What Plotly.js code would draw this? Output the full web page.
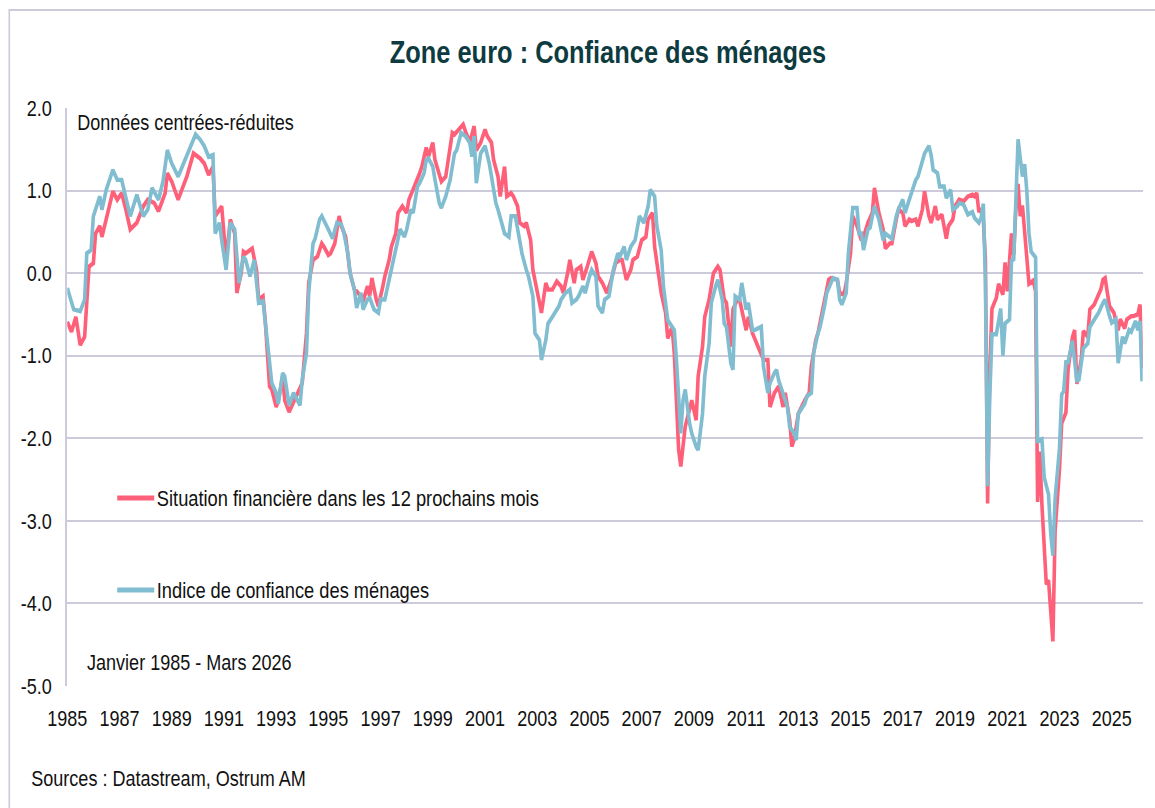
<!DOCTYPE html>
<html>
<head>
<meta charset="utf-8">
<script src="https://cdn.plot.ly/plotly-3.0.1.min.js"></script>
<style>
  html, body { margin: 0; padding: 0; background: #ffffff; overflow: hidden; }
  #cadre { width: 1155px; height: 808px; overflow: hidden; position: relative; }
  /* The source chart uses a narrow typeface: render wider, then compress horizontally */
  #chart { width: 1408px; height: 808px; transform: scaleX(0.8203); transform-origin: 0 0; }
</style>
</head>
<body>
<div id="cadre"><div id="chart"></div></div>
<script>
// ---- Série 1 : Situation financière dans les 12 prochains mois (centrée-réduite) ----
const moisSituation = [
'1985-01','1985-03','1985-05','1985-07','1985-09','1985-11','1986-01','1986-02','1986-04','1986-05','1986-08','1986-10','1986-12',
'1987-02','1987-04','1987-06','1987-09','1987-12','1988-02','1988-05','1988-07','1988-10','1988-11','1989-01','1989-04','1989-08','1989-11',
'1990-02','1990-04','1990-06','1990-08','1990-09','1990-12','1991-02','1991-04','1991-06','1991-07','1991-09','1991-10','1991-11',
'1992-01','1992-02','1992-04','1992-05','1992-07','1992-08','1992-10','1992-11','1993-01','1993-02','1993-04','1993-05','1993-07','1993-08','1993-11',
'1994-01','1994-03','1994-04','1994-06','1994-08','1994-10','1994-11','1995-01','1995-02','1995-04','1995-06','1995-07','1995-09','1995-11',
'1996-01','1996-02','1996-04','1996-05','1996-07','1996-08','1996-09','1996-11','1996-12','1997-02','1997-03','1997-05','1997-06','1997-08','1997-09','1997-11',
'1998-01','1998-02','1998-04','1998-05','1998-07','1998-08','1998-10','1998-11','1999-01','1999-02','1999-04','1999-05','1999-07','1999-08','1999-10','1999-11',
'2000-01','2000-03','2000-04','2000-06','2000-08','2000-09','2000-11','2001-01','2001-02','2001-04','2001-05','2001-07','2001-08','2001-09','2001-10','2001-11',
'2002-01','2002-02','2002-04','2002-05','2002-07','2002-08','2002-10','2002-11','2003-01','2003-02','2003-03','2003-05','2003-06','2003-08','2003-10','2003-12',
'2004-01','2004-03','2004-04','2004-06','2004-07','2004-09','2004-10','2004-12','2005-02','2005-04','2005-05','2005-07','2005-09','2005-11',
'2006-01','2006-03','2006-04','2006-06','2006-08','2006-09','2006-11','2007-01','2007-03','2007-04','2007-06','2007-07','2007-09','2007-10','2007-12',
'2008-01','2008-03','2008-04','2008-06','2008-07','2008-09','2008-11','2008-12','2009-02','2009-03','2009-05','2009-06','2009-08','2009-10','2009-12',
'2010-01','2010-03','2010-04','2010-06','2010-07','2010-09','2010-10','2011-01','2011-02','2011-04','2011-07','2011-09','2011-11','2011-12',
'2012-02','2012-04','2012-06','2012-07','2012-09','2012-10','2012-11','2013-01','2013-04','2013-06','2013-07','2013-09','2013-10','2013-12',
'2014-01','2014-03','2014-04','2014-07','2014-08','2014-10','2014-11','2015-01','2015-02','2015-04','2015-06','2015-07','2015-09','2015-11','2015-12',
'2016-02','2016-04','2016-05','2016-07','2016-08','2016-10','2016-11','2017-01','2017-02','2017-04','2017-05','2017-07','2017-08','2017-10','2017-11',
'2018-01','2018-02','2018-04','2018-05','2018-07','2018-09','2018-10','2018-12','2019-01','2019-03','2019-05','2019-07','2019-09','2019-10','2019-11','2019-12',
'2020-01','2020-02','2020-03','2020-04','2020-05','2020-06','2020-08','2020-09','2020-11','2020-12','2021-01','2021-03','2021-04','2021-05','2021-06','2021-07','2021-08','2021-10','2021-11',
'2022-01','2022-02','2022-03','2022-04','2022-05','2022-07','2022-08','2022-10','2022-11','2023-01','2023-02','2023-04','2023-05','2023-07','2023-08','2023-09','2023-10','2023-11','2023-12',
'2024-02','2024-03','2024-05','2024-06','2024-08','2024-09','2024-10','2024-11','2024-12','2025-02','2025-04','2025-05','2025-07','2025-08','2025-10','2025-11',
'2026-01','2026-02','2026-03'
];
const valeursSituation = [
-0.59,-0.71,-0.53,-0.87,-0.77,0.08,0.12,0.48,0.57,0.44,0.77,0.99,0.89,
0.97,0.77,0.53,0.61,0.81,0.89,0.85,0.75,0.97,1.21,1.11,0.89,1.17,1.45,
1.39,1.33,1.19,1.29,0.69,0.81,0.16,0.65,0.48,-0.24,0.00,0.26,0.24,
0.28,0.30,0.04,-0.32,-0.28,-0.57,-1.37,-1.41,-1.62,-1.54,-1.25,-1.54,-1.68,-1.62,-1.45,
-1.33,-0.73,-0.12,0.16,0.20,0.36,0.32,0.22,0.24,0.36,0.69,0.57,0.44,0.00,
-0.20,-0.22,-0.28,-0.34,-0.16,-0.28,-0.06,-0.32,-0.40,-0.16,-0.04,0.16,0.32,0.48,0.73,0.81,
0.73,0.89,1.01,1.09,1.21,1.29,1.52,1.41,1.58,1.37,1.17,1.11,1.17,1.35,1.70,1.68,
1.74,1.80,1.72,1.58,1.78,1.49,1.58,1.74,1.66,1.58,1.37,1.17,0.93,1.09,1.29,0.93,
0.97,0.93,0.81,0.61,0.57,0.61,0.40,0.04,-0.20,-0.32,-0.48,-0.12,-0.20,-0.20,-0.10,-0.16,
-0.24,0.00,0.16,-0.12,0.04,0.08,-0.08,0.08,0.26,0.12,-0.04,-0.12,-0.24,-0.08,
0.12,0.16,0.16,-0.08,0.04,0.16,0.20,0.40,0.44,0.65,0.73,0.32,-0.04,-0.24,-0.48,
-0.79,-0.65,-0.97,-2.14,-2.34,-1.86,-1.66,-1.54,-1.78,-1.25,-0.89,-0.53,-0.32,0.00,0.08,
0.04,-0.32,-0.36,-0.89,-0.44,-0.32,-0.32,-0.69,-0.53,-0.73,-0.93,-1.05,-1.05,-1.62,
-1.45,-1.37,-1.62,-1.45,-1.78,-2.10,-2.02,-1.70,-1.54,-1.45,-1.13,-0.81,-0.73,-0.48,
-0.34,-0.08,-0.06,-0.08,-0.24,-0.26,-0.12,0.24,0.69,0.57,0.40,0.44,0.61,0.73,1.03,
0.73,0.53,0.30,0.36,0.36,0.65,0.77,0.73,0.57,0.65,0.63,0.65,0.57,0.77,0.99,
0.69,0.61,0.81,0.65,0.71,0.42,0.57,0.65,0.81,0.89,0.87,0.93,0.95,0.93,0.97,0.74,
0.78,0.65,0.17,-2.79,-1.17,-0.43,-0.30,-0.13,-0.26,0.13,-0.22,0.48,0.22,0.78,1.08,0.69,0.82,0.22,-0.13,
-0.09,-0.22,-2.77,-2.16,-2.81,-3.77,-3.72,-4.46,-3.12,-2.38,-1.82,-1.69,-1.17,-0.78,-0.69,-1.34,-1.20,-1.05,-0.70,
-0.77,-0.44,-0.38,-0.32,-0.20,-0.08,-0.06,-0.24,-0.40,-0.48,-0.69,-0.56,-0.67,-0.56,-0.52,-0.52,
-0.50,-0.38,-1.15
];

// ---- Série 2 : Indice de confiance des ménages (centré-réduit) ----
const moisIndice = [
'1985-01','1985-04','1985-07','1985-09','1985-10','1985-12','1986-01','1986-04','1986-05','1986-07','1986-10','1986-12',
'1987-02','1987-04','1987-06','1987-09','1987-12','1988-02','1988-04','1988-07','1988-09','1988-11','1989-01','1989-04','1989-07','1989-09','1989-12',
'1990-02','1990-04','1990-06','1990-08','1990-09','1990-11','1990-12','1991-02','1991-04','1991-06','1991-08','1991-10','1991-11',
'1992-01','1992-03','1992-05','1992-07','1992-08','1992-10','1992-11','1993-01','1993-02','1993-04','1993-05','1993-07','1993-09','1993-12',
'1994-01','1994-03','1994-04','1994-06','1994-07','1994-09','1994-10','1995-01','1995-03','1995-05','1995-07','1995-08','1995-10','1995-11',
'1996-01','1996-02','1996-04','1996-05','1996-07','1996-08','1996-10','1996-12','1997-01','1997-03','1997-04','1997-06','1997-07','1997-09','1997-10','1997-12',
'1998-01','1998-03','1998-04','1998-06','1998-07','1998-09','1998-10','1998-11','1999-01','1999-02','1999-04','1999-05','1999-07','1999-09','1999-11','1999-12',
'2000-02','2000-04','2000-06','2000-07','2000-08','2000-09','2000-11','2001-01','2001-03','2001-04','2001-06','2001-07','2001-09','2001-10','2001-12',
'2002-01','2002-03','2002-05','2002-06','2002-08','2002-09','2002-11','2002-12','2003-02','2003-03','2003-05','2003-06','2003-08','2003-09','2003-11','2003-12',
'2004-02','2004-04','2004-05','2004-07','2004-08','2004-10','2004-11','2005-01','2005-02','2005-04','2005-05','2005-07','2005-08','2005-10','2005-12',
'2006-02','2006-03','2006-05','2006-06','2006-08','2006-10','2006-12','2007-02','2007-04','2007-05','2007-07','2007-08','2007-10','2007-11',
'2008-01','2008-02','2008-04','2008-05','2008-07','2008-08','2008-09','2008-11','2008-12','2009-02','2009-03','2009-05','2009-06','2009-08','2009-09','2009-11','2009-12',
'2010-02','2010-03','2010-04','2010-06','2010-07','2010-08','2010-10','2010-11','2011-01','2011-02','2011-04','2011-05','2011-08','2011-09','2011-11','2011-12',
'2012-02','2012-03','2012-04','2012-06','2012-08','2012-09','2012-11','2012-12','2013-01','2013-04','2013-05','2013-07','2013-08','2013-10','2013-11',
'2014-01','2014-02','2014-04','2014-05','2014-07','2014-08','2014-09','2014-11','2014-12','2015-02','2015-04','2015-05','2015-06','2015-07','2015-09','2015-10','2015-12',
'2016-02','2016-04','2016-05','2016-07','2016-08','2016-10','2016-11','2017-01','2017-02','2017-04','2017-05','2017-07','2017-08','2017-10','2017-11',
'2018-01','2018-02','2018-03','2018-05','2018-06','2018-08','2018-09','2018-11','2018-12','2019-02','2019-03','2019-05','2019-07','2019-09','2019-10','2019-12',
'2020-01','2020-02','2020-03','2020-04','2020-05','2020-06','2020-08','2020-10','2020-11','2020-12','2021-02','2021-03','2021-04','2021-05','2021-06','2021-08','2021-09','2021-10','2021-11','2021-12',
'2022-02','2022-03','2022-05','2022-06','2022-08','2022-09','2022-10','2022-11','2023-01','2023-02','2023-03','2023-04','2023-05','2023-07','2023-09','2023-10','2023-12',
'2024-02','2024-03','2024-06','2024-07','2024-09','2024-10','2024-12','2025-01','2025-03','2025-04','2025-06','2025-07','2025-09','2025-10','2025-12',
'2026-01','2026-02','2026-03'
];
const valeursIndice = [
-0.18,-0.44,-0.46,-0.32,0.24,0.28,0.69,0.93,0.77,1.01,1.25,1.13,
1.13,0.93,0.69,0.95,0.69,0.77,1.03,0.89,1.11,1.49,1.33,1.17,1.35,1.49,1.68,
1.62,1.54,1.41,1.43,0.48,0.61,0.40,0.04,0.61,0.53,-0.12,0.20,0.16,
-0.04,0.16,-0.36,-0.34,-0.57,-1.09,-1.33,-1.45,-1.58,-1.21,-1.25,-1.60,-1.45,-1.60,
-1.29,-0.97,-0.24,0.36,0.42,0.65,0.69,0.53,0.42,0.61,0.59,0.51,0.24,0.00,
-0.20,-0.42,-0.24,-0.44,-0.32,-0.30,-0.44,-0.48,-0.32,-0.32,-0.20,0.08,0.20,0.40,0.53,0.44,
0.53,0.77,0.73,1.05,1.09,1.21,1.37,1.39,1.29,1.13,0.85,0.79,0.93,1.13,1.45,1.49,
1.70,1.66,1.58,1.41,1.66,1.09,1.45,1.54,1.33,1.17,0.85,0.77,0.57,0.48,0.44,
0.69,0.69,0.36,0.24,0.04,-0.04,-0.28,-0.73,-0.81,-1.05,-0.81,-0.61,-0.53,-0.48,-0.40,-0.32,
-0.24,-0.20,-0.36,-0.32,-0.28,-0.16,-0.24,-0.04,0.04,-0.04,-0.40,-0.48,-0.32,-0.28,0.04,
0.24,0.20,0.32,0.16,0.32,0.40,0.69,0.61,0.81,1.01,0.93,0.57,0.28,-0.16,
-0.57,-0.61,-0.69,-1.05,-1.94,-1.54,-1.41,-1.82,-1.94,-2.10,-2.14,-1.70,-1.25,-0.85,-0.36,-0.16,-0.08,
-0.32,-0.61,-0.65,-1.09,-1.17,-0.28,-0.32,-0.12,-0.44,-0.36,-0.69,-0.69,-0.65,-1.13,-1.45,-1.33,
-1.21,-1.17,-1.30,-1.45,-1.62,-1.86,-1.94,-2.02,-1.70,-1.58,-1.49,-1.45,-0.97,-0.73,-0.65,
-0.40,-0.24,-0.12,-0.06,-0.08,-0.32,-0.38,-0.24,0.24,0.79,0.79,0.48,0.48,0.28,0.53,0.55,0.81,
0.65,0.40,0.48,0.44,0.42,0.69,0.77,0.89,0.73,0.89,0.97,1.13,1.17,1.37,1.45,
1.54,1.43,1.25,1.21,1.05,1.05,0.91,1.01,0.77,0.81,0.85,0.83,0.71,0.74,0.67,0.61,
0.67,0.84,-0.09,-2.58,-1.50,-0.74,-0.74,-0.43,-1.00,-0.61,-0.56,0.15,0.17,1.00,1.62,1.17,1.32,1.00,0.48,0.26,
0.19,-2.03,-2.01,-2.47,-2.68,-3.16,-3.42,-2.73,-2.12,-1.47,-1.43,-1.08,-1.08,-0.82,-1.30,-1.29,-0.91,
-0.85,-0.65,-0.52,-0.48,-0.36,-0.32,-0.52,-0.60,-0.56,-1.09,-0.77,-0.85,-0.69,-0.71,-0.58,
-0.69,-0.58,-1.31
];

// ---- Axes : graduations ----
const anneesTicks = ['1985','1987','1989','1991','1993','1995','1997','1999','2001','2003','2005','2007','2009','2011','2013','2015','2017','2019','2021','2023','2025'];
const valeursTicksY = [2, 1, 0, -1, -2, -3, -4, -5];
const libellesTicksY = ['2.0','1.0','0.0','-1.0','-2.0','-3.0','-4.0','-5.0'];

const nomSituation = 'Situation financière dans les 12 prochains mois';
const nomIndice = 'Indice de confiance des ménages';

const K = 0.8203;               // horizontal compression applied by CSS
const ROUGE = '#ff6079';
const BLEU = '#80bdd0';
const GRILLE = '#cbcbdb';
const POLICE = 'Liberation Sans, Arial, sans-serif';
const TEXTE = '#111111';

const dateTicks = anneesTicks.map(a => a + '-01-01');
const plageX = ['1985-01-01', '2026-03-10'];

// pixel helpers (final picture pixels -> paper fractions)
const PL = 67, PR = 1143, PT = 108, PB = 686;
const px = x => (x - PL) / (PR - PL);
const py = y => (PB - y) / (PB - PT);

const traces = [
  { type: 'scatter', mode: 'lines', name: nomSituation, x: moisSituation, y: valeursSituation,
    line: { color: ROUGE, width: 4.4 }, showlegend: false, hoverinfo: 'skip' },
  { type: 'scatter', mode: 'lines', name: nomIndice, x: moisIndice, y: valeursIndice,
    line: { color: BLEU, width: 4.4 }, showlegend: false, hoverinfo: 'skip' }
];

const txt = 22;
const layout = {
  width: 1408, height: 808,
  margin: { l: PL / K, r: (1155 - PR) / K, t: PT, b: 808 - PB },
  paper_bgcolor: '#ffffff', plot_bgcolor: '#ffffff',
  font: { family: POLICE, color: TEXTE, size: txt },
  title: {
    text: 'Zone euro : Confiance des ménages',
    font: { family: POLICE, size: 31, color: '#0e3b40', weight: 'bold' },
    xref: 'paper', x: px(608), xanchor: 'center',
    yref: 'container', y: 1 - 52 / 808, yanchor: 'middle'
  },
  xaxis: {
    type: 'date', range: plageX, fixedrange: true,
    tickmode: 'array', tickvals: dateTicks, ticktext: anneesTicks,
    showgrid: false, zeroline: false, showline: false, ticks: '',
    tickfont: { family: POLICE, size: txt, color: TEXTE },
    ticklabelstandoff: 17
  },
  xaxis2: {
    type: 'date', range: plageX, overlaying: 'x', anchor: 'free', position: 5 / 7,
    tickmode: 'array', tickvals: dateTicks, showticklabels: false,
    ticks: 'outside', ticklen: 6, tickwidth: 2, tickcolor: GRILLE,
    showgrid: false, zeroline: false, showline: false
  },
  yaxis: {
    range: [-5, 2], fixedrange: true,
    tickmode: 'array', tickvals: valeursTicksY, ticktext: libellesTicksY,
    showgrid: true, gridcolor: GRILLE, gridwidth: 2,
    zeroline: false, showline: true, linecolor: GRILLE, linewidth: 2.4, ticks: '',
    tickfont: { family: POLICE, size: txt, color: TEXTE },
    ticklabelstandoff: 12
  },
  shapes: [
    { type: 'rect', xref: 'paper', yref: 'paper', x0: px(9), x1: 1.2, y0: -0.6, y1: py(10),
      line: { color: GRILLE, width: 2 }, fillcolor: 'rgba(0,0,0,0)', layer: 'below' },
    { type: 'line', xref: 'paper', yref: 'paper', x0: px(117), x1: px(154), y0: py(498), y1: py(498),
      line: { color: ROUGE, width: 5 } },
    { type: 'line', xref: 'paper', yref: 'paper', x0: px(117), x1: px(154), y0: py(590), y1: py(590),
      line: { color: BLEU, width: 5 } }
  ],
  annotations: [
    { text: 'Données centrées-réduites', xref: 'paper', yref: 'paper', x: px(75), y: py(123),
      xanchor: 'left', yanchor: 'middle', showarrow: false, font: { family: POLICE, size: txt, color: TEXTE } },
    { text: nomSituation, xref: 'paper', yref: 'paper', x: px(155), y: py(498),
      xanchor: 'left', yanchor: 'middle', showarrow: false, font: { family: POLICE, size: 22.3, color: TEXTE } },
    { text: nomIndice, xref: 'paper', yref: 'paper', x: px(155), y: py(590),
      xanchor: 'left', yanchor: 'middle', showarrow: false, font: { family: POLICE, size: 22.3, color: TEXTE } },
    { text: 'Janvier 1985 - Mars 2026', xref: 'paper', yref: 'paper', x: px(85), y: py(662),
      xanchor: 'left', yanchor: 'middle', showarrow: false, font: { family: POLICE, size: txt, color: TEXTE } },
    { text: 'Sources : Datastream, Ostrum AM', xref: 'paper', yref: 'paper', x: px(29), y: py(778),
      xanchor: 'left', yanchor: 'middle', showarrow: false, font: { family: POLICE, size: txt, color: TEXTE } }
  ]
};

Plotly.newPlot('chart', traces, layout, { displayModeBar: false, staticPlot: true });
</script>
</body>
</html>
